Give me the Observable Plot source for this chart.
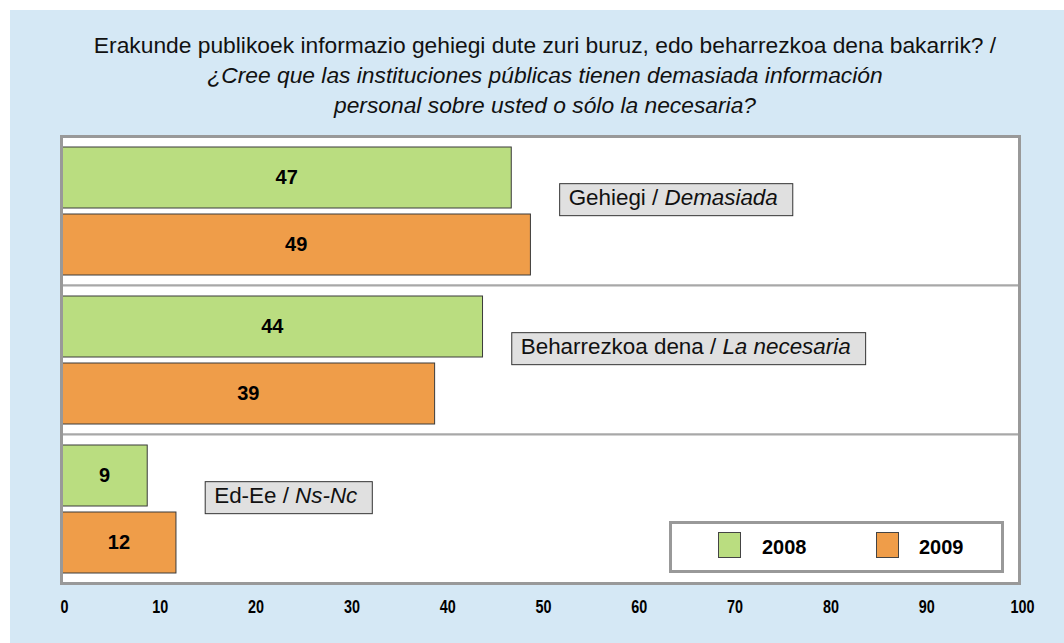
<!DOCTYPE html>
<html><head><meta charset="utf-8">
<script src="https://cdn.jsdelivr.net/npm/d3@7"></script>
<script src="https://cdn.jsdelivr.net/npm/@observablehq/plot@0.6"></script>
<style>
body{margin:0;background:#fff;font-family:"Liberation Sans",Arial,sans-serif;}
#bg{position:absolute;left:10px;top:10px;width:1054px;height:633px;background:#d5e8f5;}
#title{position:absolute;left:26px;top:30px;width:1038px;text-align:center;font-size:22.8px;line-height:30px;color:#111;}
#title i{font-style:italic;}
#chart{position:absolute;left:10px;top:120px;}
#legend{position:absolute;left:669px;top:521px;width:335px;height:52px;box-sizing:border-box;border:3px solid #999;background:#fff;}
#legend .sw{position:absolute;top:8px;width:23px;height:26px;border:1px solid #444;box-sizing:border-box;}
#legend .lb{position:absolute;top:0;line-height:46px;font-size:20px;font-weight:bold;color:#000;}
</style></head><body>
<div id="bg"></div>
<div id="title">Erakunde publikoek informazio gehiegi dute zuri buruz, edo beharrezkoa dena bakarrik? /<br><i>¿Cree que las instituciones públicas tienen demasiada información<br>personal sobre usted o sólo la necesaria?</i></div>
<div id="chart"></div>
<div id="legend"></div>
<script>
const categories = ["Gehiegi / Demasiada", "Beharrezkoa dena / La necesaria", "Ed-Ee / Ns-Nc"];
const years = ["2008", "2009"];
const values2008 = [47, 44, 9];
const values2009 = [49, 39, 12];
const xTicks = [0, 10, 20, 30, 40, 50, 60, 70, 80, 90, 100];
const colors = ["#badd80", "#ef9d49"];

const rows = [];
categories.forEach((c, i) => {
  rows.push({cat: c, year: years[0], value: values2008[i]});
  rows.push({cat: c, year: years[1], value: values2009[i]});
});
const labelRows = categories.map((c, i) => ({cat: c, max: Math.max(values2008[i], values2009[i])}));

const plot = Plot.plot({
  width: 1054,
  height: 513,
  marginTop: 15,
  marginBottom: 50,
  marginLeft: 51,
  marginRight: 45,
  style: {background: "transparent", fontFamily: "'Liberation Sans', Arial, sans-serif"},
  x: {domain: [0, 100], axis: null},
  y: {domain: years, axis: null, paddingInner: 0.095, paddingOuter: 0.147},
  fy: {domain: categories, axis: null, padding: 0},
  color: {domain: years, range: colors},
  marks: [
    Plot.frame({fill: "white", stroke: "#a8a8a8", strokeWidth: 2}),
    Plot.barX(rows, {x: "value", y: "year", fy: "cat", fill: "year", stroke: "#3a3a3a", strokeWidth: 1}),
    Plot.text(rows, {x: d => d.value / 2, y: "year", fy: "cat", text: d => String(d.value), fontSize: 20, fontWeight: "bold", fill: "#000"}),
    Plot.text(labelRows, {x: d => d.max + 3, fy: "cat", text: "cat", textAnchor: "start", dx: 9, dy: -13, fontSize: 22.4, fill: "#111"}),
    Plot.axisX(xTicks, {label: null, tickSize: 0, tickPadding: 17, dx: 3, fontSize: 18, fontWeight: "bold", fill: "#000", facetAnchor: "bottom"}),
    Plot.frame({stroke: "#999", strokeWidth: 3, facet: "super"})
  ]
});
document.getElementById("chart").appendChild(plot);

// condensed look for tick labels (narrow bold face)
const tickStrings = xTicks.map(String);
plot.querySelectorAll("text").forEach(t => {
  if (tickStrings.includes(t.textContent)) {
    const w = t.getComputedTextLength();
    t.setAttribute("textLength", (w * 0.8).toFixed(1));
    t.setAttribute("lengthAdjust", "spacingAndGlyphs");
  }
});

// mixed-style category labels with boxes
const ns = "http://www.w3.org/2000/svg";
plot.querySelectorAll("text").forEach(t => {
  const s = t.textContent;
  if (!categories.includes(s)) return;
  const parts = s.split(" / ");
  t.textContent = "";
  const a = document.createElementNS(ns, "tspan");
  a.textContent = parts[0] + " / ";
  t.appendChild(a);
  const b = document.createElementNS(ns, "tspan");
  b.textContent = parts[1];
  b.setAttribute("font-style", "italic");
  t.appendChild(b);
  const bb = t.getBBox();
  const r = document.createElementNS(ns, "rect");
  r.setAttribute("x", bb.x - 9);
  r.setAttribute("y", bb.y - 1.5);
  r.setAttribute("width", bb.width + 24);
  r.setAttribute("height", bb.height + 7);
  r.setAttribute("fill", "#e0e0e0");
  r.setAttribute("stroke", "#333");
  r.setAttribute("stroke-width", 1);
  if (t.getAttribute("transform")) r.setAttribute("transform", t.getAttribute("transform"));
  t.parentNode.insertBefore(r, t);
});

// legend
const lg = document.getElementById("legend");
const swLeft = [46, 204], lbLeft = [90, 247];
years.forEach((y, i) => {
  const sw = document.createElement("div");
  sw.className = "sw"; sw.style.left = swLeft[i] + "px"; sw.style.background = colors[i];
  lg.appendChild(sw);
  const lb = document.createElement("div");
  lb.className = "lb"; lb.style.left = lbLeft[i] + "px"; lb.textContent = y;
  lg.appendChild(lb);
});
</script>
</body></html>
